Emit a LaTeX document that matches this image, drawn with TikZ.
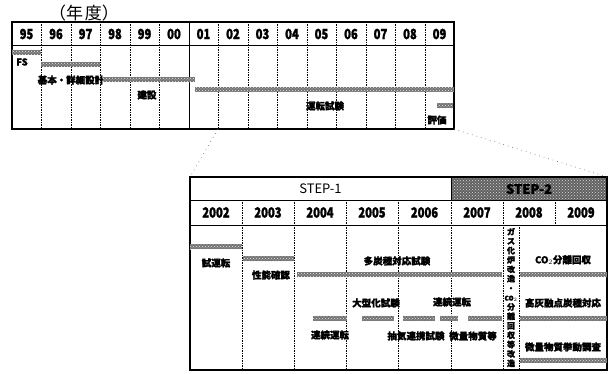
\documentclass[tikz,border=0pt]{standalone}
\usepackage{fontspec}
\usepackage{graphicx}
\setmainfont{Noto Sans CJK JP}
\newfontfamily\jpfont[BoldFeatures={FakeBold=1.6}]{Noto Sans CJK JP}
\usepackage{tikz}
\usetikzlibrary{patterns,positioning}

\newcommand{\narrow}[1]{\scalebox{0.8}[1]{#1}}

\tikzset{
	frame/.style={line width=1.1pt},
	colline/.style={line width=0.5pt,dash pattern=on 1.5pt off 1pt},
	yearlbl/.style={font=\jpfont\bfseries\fontsize{14}{14}\selectfont,inner sep=0pt},
	steplbl/.style={font=\jpfont\fontsize{13}{13}\selectfont,inner sep=0pt},
	jplbl/.style={font=\jpfont\bfseries\fontsize{9.5}{9.5}\selectfont,inner sep=0pt},
	bar/.style={fill=black!55,postaction={pattern=crosshatch dots,pattern color=white!85!gray}},
	zoomline/.style={gray,line width=0.7pt,loosely dotted},
}

\begin{document}
\begin{tikzpicture}[x=1pt,y=-1pt]
	\colorlet{stepfill}{black!62}
	\fill[white] (0,0) rectangle (608,374);
	\useasboundingbox (0,0) rectangle (608,374);

	% ---------- Upper table: 95 .. 09 ----------
	\node[font=\jpfont\fontsize{17}{17}\selectfont,inner sep=0pt] (nendo) at (84,13) {（年\hspace{2pt}度）};

	\draw[frame] (12,22) rectangle (454,129);
	\draw[line width=0.8pt] (12,45) -- (454,45);
	\draw[colline] (41,22) -- (41,129) (71,22) -- (71,129) (100,22) -- (100,129)
		(130,22) -- (130,129) (159,22) -- (159,129) (218,22) -- (218,129)
		(248,22) -- (248,129) (277,22) -- (277,129) (307,22) -- (307,129)
		(336,22) -- (336,129) (366,22) -- (366,129) (395,22) -- (395,129)
		(425,22) -- (425,129);
	\draw[line width=0.6pt] (189,22) -- (189,129);

	% years
	\node[yearlbl] (y95) at (26.5,34) {\narrow{95}};
	\node[yearlbl] (y96) at (56,34) {\narrow{96}};
	\node[yearlbl] (y97) at (85.5,34) {\narrow{97}};
	\node[yearlbl] (y98) at (115,34) {\narrow{98}};
	\node[yearlbl] (y99) at (144.5,34) {\narrow{99}};
	\node[yearlbl] (y00) at (174,34) {\narrow{00}};
	\node[yearlbl] (y01) at (203.5,34) {\narrow{01}};
	\node[yearlbl] (y02) at (233,34) {\narrow{02}};
	\node[yearlbl] (y03) at (262.5,34) {\narrow{03}};
	\node[yearlbl] (y04) at (292,34) {\narrow{04}};
	\node[yearlbl] (y05) at (321.5,34) {\narrow{05}};
	\node[yearlbl] (y06) at (351,34) {\narrow{06}};
	\node[yearlbl] (y07) at (380.5,34) {\narrow{07}};
	\node[yearlbl] (y08) at (410,34) {\narrow{08}};
	\node[yearlbl] (y09) at (439.5,34) {\narrow{09}};

	% bars and tasks
	\fill[bar] (12,50) rectangle (41,55);
	\node[jplbl] (fs) at (22,62) {FS};
	\fill[bar] (41,62) rectangle (100,67);
	\node[jplbl] (design) at (71,80) {基本・詳細設計};
	\fill[bar] (103,77.5) rectangle (195,82.5);
	\node[jplbl] (build) at (147,95) {建設};
	\fill[bar] (195,87.5) rectangle (454,92.5);
	\node[jplbl] (optest) at (325,106) {運転試験};
	\fill[bar] (437,103.5) rectangle (453,108.5);
	\node[jplbl] (eval) at (437,120) {評価};

	% corners for the zoom lines
	\coordinate (zoomTL) at (218,129);
	\coordinate (zoomTR) at (454,129);

	% ---------- Lower table: 2002 .. 2009 ----------
	\fill[stepfill] (451,177) rectangle (607,200);
	\fill[pattern=crosshatch dots,pattern color=white!70!gray] (451,177) rectangle (607,200);
	\draw[frame] (190,177) rectangle (607,370);
	\draw[line width=0.8pt] (190,200) -- (607,200);
	\draw[line width=0.8pt] (190,225) -- (607,225);
	\draw[line width=0.8pt] (451,177) -- (451,200);
	\draw[colline] (242,200) -- (242,370) (294,200) -- (294,370) (346,200) -- (346,370)
		(398,200) -- (398,370) (451,200) -- (451,370) (503,200) -- (503,370)
		(555,200) -- (555,225) (519,225) -- (519,370);

	\coordinate (zoomBL) at (190,177);
	\coordinate (zoomBR) at (607,177);

	\node[steplbl] (step1) at (320.5,189) {STEP-1};
	\node[steplbl,font=\jpfont\bfseries\fontsize{13}{13}\selectfont] (step2) at (529,189) {STEP-2};

	\node[yearlbl] (y2002) at (216,212.5) {\narrow{2002}};
	\node[yearlbl] (y2003) at (268,212.5) {\narrow{2003}};
	\node[yearlbl] (y2004) at (320,212.5) {\narrow{2004}};
	\node[yearlbl] (y2005) at (372,212.5) {\narrow{2005}};
	\node[yearlbl] (y2006) at (424.5,212.5) {\narrow{2006}};
	\node[yearlbl] (y2007) at (477,212.5) {\narrow{2007}};
	\node[yearlbl] (y2008) at (529,212.5) {\narrow{2008}};
	\node[yearlbl] (y2009) at (581,212.5) {\narrow{2009}};

	% STEP-1 tasks
	\fill[bar] (190,244.5) rectangle (242,249.5);
	\node[jplbl] (trial) at (216,263) {試運転};
	\fill[bar] (243,256.5) rectangle (294,261.5);
	\node[jplbl] (perf) at (271,275) {性能確認};
	\node[jplbl] (multicoal) at (397,261) {多炭種対応試験};
	\fill[bar] (297,272.5) rectangle (502,277.5);
	\node[jplbl] (scaleup) at (376,303) {大型化試験};
	\fill[bar] (362,315.5) rectangle (394,320.5);
	\fill[bar] (313,315.5) rectangle (347,320.5);
	\node[jplbl] (contA) at (330,335) {連続運転};
	\node[jplbl] (contB) at (452,302) {連続運転};
	\fill[bar] (403,315.5) rectangle (435,320.5);
	\fill[bar] (440,315.5) rectangle (458,320.5);
	\fill[bar] (468,315.5) rectangle (502,320.5);
	\node[jplbl] (extract) at (416,336) {抽気連携試験};
	\node[jplbl] (traceA) at (473,336) {微量物質等};

	% STEP-2 tasks
	\node[font=\jpfont\bfseries\fontsize{8}{9.4}\selectfont,align=center,inner sep=0pt] (retrofit) at (511,297.5)
		{ガ\\ス\\化\\炉\\改\\造\\・\\{\fontsize{6.5}{6.5}\selectfont CO$_2$}\\分\\離\\回\\収\\等\\改\\造};
	\node[jplbl] (co2) at (563,260) {CO$_2$分離回収};
	\fill[bar] (520,272.5) rectangle (607,277.5);
	\node[jplbl] (highash) at (563,303) {高灰融点炭種対応};
	\fill[bar] (520,315.5) rectangle (607,320.5);
	\node[jplbl] (traceB) at (563,347) {微量物質挙動調査};
	\fill[bar] (520,357.5) rectangle (607,362.5);

	% ---------- zoom lines ----------
	\draw[zoomline] (zoomTL) -- (zoomBL);
	\draw[zoomline] (zoomTR) -- (zoomBR);
\end{tikzpicture}
\end{document}
